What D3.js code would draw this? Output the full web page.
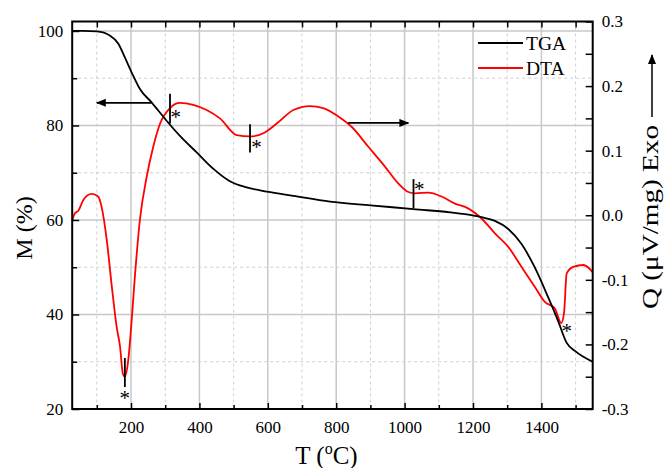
<!DOCTYPE html>
<html>
<head>
<meta charset="utf-8">
<script src="https://cdn.jsdelivr.net/npm/d3@7"></script>
<style>
  body { margin: 0; background: #fff; }
  svg { display: block; font-family: "Liberation Serif", "Times New Roman", serif; }
</style>
</head>
<body>
<svg id="chart" width="670" height="468"></svg>
<script>
'use strict';

// TGA: temperature (°C), mass (%)
const tga = [
  [28, 100.0], [60, 100.0], [100, 99.9], [139, 99.0], [163, 97.3], [182, 94.4],
  [202, 91.2], [226, 87.7], [260, 84.9], [304, 81.0], [343, 77.8], [392, 74.3],
  [441, 70.8], [489, 68.2], [538, 66.9], [597, 66.0], [675, 65.1], [782, 63.9],
  [900, 63.1], [1026, 62.3], [1157, 61.4], [1225, 60.6], [1264, 59.8], [1303, 58.1],
  [1342, 54.9], [1381, 49.9], [1420, 43.6], [1449, 38.6], [1474, 34.0], [1498, 32.3],
  [1550, 30.0]
];

// DTA: temperature (°C), heat flow (µV/mg)
const dta = [
  [28, -0.008], [36, 0.003], [46, 0.007], [61, 0.024], [85, 0.033], [104, 0.029],
  [114, 0.013], [129, -0.038], [144, -0.111], [158, -0.173], [168, -0.204], [176, -0.245],
  [182, -0.250], [192, -0.224], [202, -0.162], [212, -0.090], [226, -0.007], [246, 0.060],
  [265, 0.106], [285, 0.142], [314, 0.166], [343, 0.174], [382, 0.171], [421, 0.163],
  [460, 0.150], [509, 0.124], [548, 0.122], [587, 0.127], [626, 0.142], [675, 0.163],
  [723, 0.169], [762, 0.166], [806, 0.153], [845, 0.137], [894, 0.106], [943, 0.075],
  [982, 0.049], [1011, 0.036], [1030, 0.034], [1069, 0.035], [1108, 0.029], [1147, 0.018],
  [1177, 0.013], [1225, -0.005], [1264, -0.028], [1303, -0.049], [1342, -0.080], [1381, -0.111],
  [1410, -0.134], [1439, -0.144], [1458, -0.167], [1466, -0.152], [1474, -0.090], [1493, -0.080],
  [1523, -0.077], [1550, -0.088]
];

// vertical marks on the DTA curve: T, Q top, Q bottom
const marks = [[182, -0.221, -0.266], [314, 0.188, 0.142], [548, 0.141, 0.097], [1026, 0.056, 0.011]];
// asterisks: T, Q
const stars = [[182, -0.279], [331, 0.157], [567, 0.110], [1043, 0.045], [1474, -0.174]];
// arrows: TGA one on the mass axis, DTA one on the Q axis
const tgaArrow = [[260, 84.8], [100, 84.8]];
const dtaArrow = [[835, 0.143], [1011, 0.143]];

const xMajor = [200, 400, 600, 800, 1000, 1200, 1400];
const xMinor = [100, 300, 500, 700, 900, 1100, 1300, 1500];
const mMajor = [20, 40, 60, 80, 100];
const mMinor = [30, 50, 70, 90];
const qMajor = [-0.3, -0.2, -0.1, 0.0, 0.1, 0.2, 0.3];
const qMinor = [-0.25, -0.15, -0.05, 0.05, 0.15, 0.25];

const svg = d3.select('#chart');
const W = +svg.attr('width'), H = +svg.attr('height');
const m = { top: 21.5, right: 77.3, bottom: 59, left: 72.2 };
const iw = W - m.left - m.right, ih = H - m.top - m.bottom;

const x = d3.scaleLinear().domain([28, 1550]).range([0, iw]);
const yM = d3.scaleLinear().domain([20, 102]).range([ih, 0]);
const yQ = d3.scaleLinear().domain([-0.3, 0.3]).range([ih, 0]);

const g = svg.append('g').attr('transform', `translate(${m.left},${m.top})`);

svg.append('defs').append('marker')
  .attr('id', 'head').attr('viewBox', '0 0 10 8').attr('refX', 9).attr('refY', 4)
  .attr('markerWidth', 11).attr('markerHeight', 8).attr('markerUnits', 'userSpaceOnUse')
  .attr('orient', 'auto')
  .append('path').attr('d', 'M0,0L10,4L0,8Z').attr('fill', '#000');

// grid
const grid = g.append('g');
grid.selectAll('.vmaj').data(xMajor).join('line')
  .attr('x1', d => x(d)).attr('x2', d => x(d)).attr('y1', 0).attr('y2', ih)
  .attr('stroke', '#c8c8c8').attr('stroke-width', 1.5);
grid.selectAll('.vmin').data(xMinor).join('line')
  .attr('x1', d => x(d)).attr('x2', d => x(d)).attr('y1', 0).attr('y2', ih)
  .attr('stroke', '#cfcfcf').attr('stroke-width', 1).attr('stroke-dasharray', '3,3');
grid.selectAll('.hmaj').data(mMajor.slice(1)).join('line')
  .attr('y1', d => yM(d)).attr('y2', d => yM(d)).attr('x1', 0).attr('x2', iw)
  .attr('stroke', '#c8c8c8').attr('stroke-width', 1.5);
grid.selectAll('.hmin').data(mMinor).join('line')
  .attr('y1', d => yM(d)).attr('y2', d => yM(d)).attr('x1', 0).attr('x2', iw)
  .attr('stroke', '#cfcfcf').attr('stroke-width', 1).attr('stroke-dasharray', '3,3');

// curves
const lineM = d3.line().x(d => x(d[0])).y(d => yM(d[1])).curve(d3.curveMonotoneX);
const lineQ = d3.line().x(d => x(d[0])).y(d => yQ(d[1])).curve(d3.curveMonotoneX);

g.append('path').datum(dta).attr('d', lineQ)
  .attr('fill', 'none').attr('stroke', '#ff0000').attr('stroke-width', 1.8);
g.append('path').datum(tga).attr('d', lineM)
  .attr('fill', 'none').attr('stroke', '#000').attr('stroke-width', 1.8);

// marks, stars, arrows
g.selectAll('.mark').data(marks).join('line')
  .attr('x1', d => x(d[0])).attr('x2', d => x(d[0]))
  .attr('y1', d => yQ(d[1])).attr('y2', d => yQ(d[2]))
  .attr('stroke', '#000').attr('stroke-width', 1.8);
g.selectAll('.star').data(stars).join('text')
  .attr('x', d => x(d[0])).attr('y', d => yQ(d[1]) + 10)
  .attr('text-anchor', 'middle').attr('font-size', 21).text('*');

g.append('line')
  .attr('x1', x(tgaArrow[0][0])).attr('y1', yM(tgaArrow[0][1]))
  .attr('x2', x(tgaArrow[1][0])).attr('y2', yM(tgaArrow[1][1]))
  .attr('stroke', '#000').attr('stroke-width', 1.7).attr('marker-end', 'url(#head)');
g.append('line')
  .attr('x1', x(dtaArrow[0][0])).attr('y1', yQ(dtaArrow[0][1]))
  .attr('x2', x(dtaArrow[1][0])).attr('y2', yQ(dtaArrow[1][1]))
  .attr('stroke', '#000').attr('stroke-width', 1.7).attr('marker-end', 'url(#head)');

// axes (ticks pointing inward)
function styleAxis(sel) {
  sel.select('.domain').remove();
  sel.selectAll('line').attr('stroke', '#000').attr('stroke-width', 1.5);
  sel.selectAll('text').attr('font-size', 17).attr('fill', '#000')
    .attr('font-family', '"Liberation Serif", "Times New Roman", serif');
}
const fmtQ = d => d.toFixed(1);

g.append('g').attr('transform', `translate(0,${ih})`)
  .call(d3.axisBottom(x).tickValues(xMajor).tickSize(-6).tickPadding(12).tickFormat(d3.format('d')))
  .call(styleAxis);
g.append('g').attr('transform', `translate(0,${ih})`)
  .call(d3.axisBottom(x).tickValues(xMinor).tickSize(-4).tickFormat(''))
  .call(styleAxis);
g.append('g')
  .call(d3.axisTop(x).tickValues(xMajor.concat(xMinor)).tickSize(-6).tickFormat(''))
  .call(styleAxis);
g.append('g')
  .call(d3.axisLeft(yM).tickValues(mMajor).tickSize(-7).tickPadding(9).tickFormat(d3.format('d')))
  .call(styleAxis);
g.append('g')
  .call(d3.axisLeft(yM).tickValues(mMinor).tickSize(-5).tickFormat(''))
  .call(styleAxis);
g.append('g').attr('transform', `translate(${iw},0)`)
  .call(d3.axisRight(yQ).tickValues(qMajor).tickSize(-7).tickPadding(9).tickFormat(fmtQ))
  .call(styleAxis);
g.append('g').attr('transform', `translate(${iw},0)`)
  .call(d3.axisRight(yQ).tickValues(qMinor).tickSize(-7).tickFormat(''))
  .call(styleAxis);

g.append('rect').attr('width', iw).attr('height', ih)
  .attr('fill', 'none').attr('stroke', '#000').attr('stroke-width', 2);

// legend
const legend = g.append('g').attr('transform', `translate(${478 - m.left},${43 - m.top})`);
[['TGA', '#000'], ['DTA', '#ff0000']].forEach(([name, col], i) => {
  legend.append('line').attr('x1', 0).attr('x2', 45).attr('y1', i * 25).attr('y2', i * 25)
    .attr('stroke', col).attr('stroke-width', 1.8);
  legend.append('text').attr('x', 48).attr('y', i * 25 + 7).attr('font-size', 19.5).text(name);
});

// axis titles
const title = svg.append('text').attr('x', m.left + iw / 2 - 6).attr('y', 464)
  .attr('text-anchor', 'middle').attr('font-size', 25);
title.append('tspan').text('T (');
title.append('tspan').attr('dy', -10).attr('font-size', 16).text('o');
title.append('tspan').attr('dy', 10).text('C)');

svg.append('text').attr('transform', 'translate(32,228) rotate(-90)')
  .attr('text-anchor', 'middle').attr('font-size', 24).text('M (%)');

svg.append('text').attr('transform', 'translate(658,217) rotate(-90)')
  .attr('text-anchor', 'middle').attr('font-size', 24)
  .attr('textLength', 184).attr('lengthAdjust', 'spacingAndGlyphs')
  .text('Q (\u03bcV/mg) Exo');
svg.append('line').attr('x1', 652).attr('x2', 652).attr('y1', 117).attr('y2', 55)
  .attr('stroke', '#000').attr('stroke-width', 1.5).attr('marker-end', 'url(#head)');
</script>
</body>
</html>
